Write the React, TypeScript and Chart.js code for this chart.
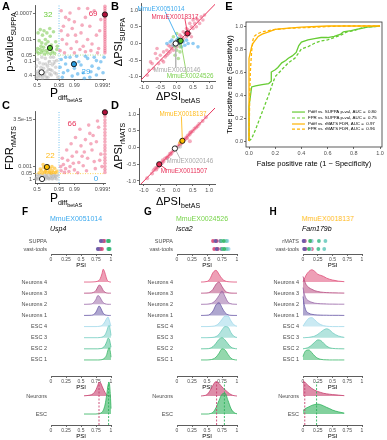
import React, { useEffect, useRef } from 'react';
import { Chart, registerables } from 'chart.js';

Chart.register(...registerables);

const FONT = '"Liberation Sans", Arial, Helvetica, sans-serif';
Chart.defaults.font.family = FONT;
Chart.defaults.font.size = 5.5;
Chart.defaults.color = '#4d4d4d';
Chart.defaults.plugins.legend.display = false;
Chart.defaults.plugins.tooltip.enabled = false;

type P = [number, number];

// ================= DATA =================
// Panels A & C: x = −log10(1 − Pdiff betAS); A: y = −log10(SUPPA p); C: y = −log10(rMATS FDR)
const pdiffTicks = [0.5, 0.95, 0.99, 0.9995];
const pdiffTickLabels = ['0.5', '0.95', '0.99', '0.9995'];
const suppaPTicks = [0.4, 0.1, 0.05, 0.01, 0.0007];
const suppaPTickLabels = ['0.4', '0.1', '0.05', '0.01', '0.0007'];
const rmatsFdrTicks = [1, 0.05, 0.001, 3.5e-15];
const rmatsFdrTickLabels = ['1', '0.05', '0.001', '3.5e-15'];
const pdiffCut = 0.95;
const pvalCut = 0.05;
const pdiffCapped = 0.99959;

const aSuppaOnly: P[] = [[0.35,2.3],[0.45,2.45],[0.55,2.2],[0.62,2.4],[0.75,2.3],[0.9,2.15],[1.05,2.35],[0.4,1.95],[0.52,1.85],[0.68,2.0],[0.8,1.9],[0.95,1.75],[1.15,1.9],[0.33,1.6],[0.45,1.55],[0.6,1.65],[0.72,1.5],[0.85,1.6],[1.0,1.45],[1.2,1.55],[0.38,1.38],[0.5,1.42],[0.65,1.35],[0.78,1.4],[0.92,1.36],[1.1,1.38],[0.58,1.5],[1.22,1.7],[0.3,1.45],[0.48,1.7],[0.88,2.5],[0.7,1.8]];
const aBoth: P[] = [[1.4,3.3],[1.6,3.0],[1.5,2.6],[1.8,3.2],[2.0,2.8],[2.2,3.4],[1.7,2.2],[1.9,2.5],[2.3,2.3],[2.5,3.0],[2.7,2.6],[2.9,3.3],[3.0,2.2],[1.45,2.0],[1.65,1.8],[1.85,1.6],[2.1,1.9],[2.4,1.7],[2.6,2.0],[2.8,1.8],[3.1,1.6],[1.35,1.5],[1.55,1.4],[2.0,1.4],[2.25,1.55],[2.5,1.45],[2.75,1.5],[3.05,1.4],[1.4,2.4],[2.05,2.2],[2.35,2.65],[3.2,2.9],[1.75,2.9],[2.6,3.4],[3.15,2.4]];
const aCappedSuppaY = [3.5,3.4,3.3,3.2,3.1,3.0,2.9,2.8,2.7,2.6,2.5,2.4,2.3,2.2,2.1,2.0,1.9,1.8,1.7,1.6,1.5,1.4];
const aBetasOnly: P[] = [[1.4,1.1],[1.6,0.9],[1.8,1.2],[2.0,0.7],[2.2,1.0],[2.4,0.5],[2.6,1.15],[2.8,0.8],[3.0,0.4],[3.2,1.0],[1.5,0.5],[1.9,0.35],[2.3,0.85],[2.7,0.3],[3.1,0.7],[1.35,0.75],[2.5,1.25],[2.9,1.2],[1.7,0.6],[3.3,0.5],[2.1,1.25],[2.75,0.55],[1.45,0.3],[3.35,1.2],[2.45,0.25],[1.95,0.95],[3.0,1.05],[2.15,0.45],[1.6,1.2]];
const aNeither: P[] = [[0.25,0.3],[0.3,0.45],[0.35,0.28],[0.4,0.6],[0.45,0.35],[0.5,0.5],[0.55,0.25],[0.6,0.7],[0.65,0.4],[0.7,0.9],[0.75,0.55],[0.8,0.3],[0.85,1.0],[0.9,0.65],[0.95,0.4],[1.0,0.85],[1.05,1.2],[1.1,0.5],[1.15,0.75],[1.2,1.05],[1.25,0.3],[0.28,0.8],[0.33,1.1],[0.42,0.95],[0.52,1.2],[0.58,0.9],[0.68,1.15],[0.78,0.8],[0.88,0.45],[0.98,0.6],[1.08,0.95],[0.38,0.4],[0.48,0.75],[0.62,0.5],[0.72,0.3],[0.82,0.65],[0.92,1.2],[1.18,0.45],[0.27,0.55],[0.56,0.38]];
const aHighlights: P[] = [[0.51,0.52],[0.89,1.62],[1.98,0.89],[3.387,3.13]];
const aCountLabels = ['32', '69', '67', '29'];

const cBoth: P[] = [[1.4,2.0],[1.5,3.5],[1.6,2.5],[1.7,4.5],[1.8,3.0],[1.9,5.5],[2.0,2.2],[2.1,6.5],[2.2,4.0],[2.3,8.0],[2.4,3.2],[2.5,9.5],[2.6,5.0],[2.7,11.0],[2.8,7.0],[2.9,4.2],[3.0,9.0],[3.1,12.5],[3.2,6.0],[1.45,5.0],[1.65,7.0],[1.85,8.5],[2.05,10.0],[2.25,12.0],[2.45,6.5],[2.65,13.0],[2.85,10.5],[3.05,14.0],[1.55,1.6],[1.75,1.8],[2.15,1.5],[2.55,2.0],[2.95,2.5],[3.25,3.0],[1.38,3.0],[2.35,5.5],[1.95,3.8],[2.75,8.5],[3.15,4.5]];
const cCappedFdrY = [16.1,15.5,15,14.2,13.5,12.8,12,11.2,10.5,9.7,9,8.2,7.5,6.8,6,5.2,4.5,3.8,3,2.3,1.6];
const cRmatsOnly: P[] = [[0.4,1.5],[0.5,2.0],[0.55,1.4],[0.6,2.8],[0.65,1.7],[0.7,2.3],[0.75,1.5],[0.8,3.2],[0.85,1.9],[0.9,2.5],[0.95,1.4],[1.0,2.0],[1.05,1.6],[1.1,2.6],[1.15,1.5],[0.45,2.4],[0.58,3.5],[0.68,1.9],[0.88,1.6],[1.2,1.9],[0.78,2.7],[0.98,3.0]];
const cNeither: P[] = [[0.25,0.1],[0.3,0.5],[0.35,0],[0.4,0.8],[0.45,0.2],[0.5,0],[0.55,0.6],[0.6,0],[0.65,1.0],[0.7,0],[0.75,0.4],[0.8,0.9],[0.85,0],[0.9,0.3],[0.95,0.7],[1.0,0],[1.05,1.1],[1.1,0.2],[1.15,0.6],[1.2,0],[1.25,0.9],[0.32,1.1],[0.48,0.95],[0.62,0.45],[0.72,0.75],[0.82,0.15],[0.92,1.2],[1.02,0.5],[1.12,0.85],[0.28,0]];
const cHighlights: P[] = [[0.53,0],[0.75,2.9],[3.387,16.1]];
const cCountLabels = ['22', '66', '67', '0'];

// Panel B: ΔPSI betAS vs ΔPSI SUPPA
const dpsiTicks = [-1, -0.5, 0, 0.5, 1];
const dpsiTickLabels = ['-1.0', '-0.5', '0.0', '0.5', '1.0'];
const bBoth: P[] = [[-0.85,-0.8],[-0.75,-0.6],[-0.7,-0.75],[-0.6,-0.45],[-0.55,-0.6],[-0.5,-0.35],[-0.45,-0.5],[-0.4,-0.25],[-0.35,-0.4],[-0.3,-0.2],[-0.3,-0.35],[-0.25,-0.3],[-0.2,-0.1],[-0.2,-0.25],[-0.15,-0.15],[-0.1,-0.05],[-0.1,-0.2],[-0.05,0.0],[0.0,0.05],[0.05,0.1],[0.1,0.05],[0.15,0.2],[0.2,0.15],[0.25,0.3],[0.3,0.2],[0.35,0.4],[0.4,0.3],[0.45,0.5],[0.5,0.45],[0.55,0.6],[0.6,0.5],[0.65,0.7],[0.7,0.6],[0.75,0.8],[0.8,0.7],[0.5,0.7],[0.4,0.6],[0.6,0.75],[-0.65,-0.3],[-0.8,-0.55],[-0.9,-0.95],[0.2,0.35],[0.3,0.45],[-0.4,-0.55],[0.1,0.25],[-0.6,-0.15],[0.45,0.2],[0.85,0.85],[-0.25,-0.05],[0.0,-0.1]];
const bBetasOnly: P[] = [[-0.3,0.0],[-0.2,0.05],[-0.1,-0.05],[0.0,0.1],[0.1,0.0],[0.2,0.05],[0.25,-0.05],[0.3,0.1],[0.15,-0.1],[0.65,-0.1],[0.5,0.0],[-0.15,0.1],[0.05,0.15],[0.35,0.0]];
const bSuppaOnly: P[] = [[0.0,-0.2],[-0.05,-0.35],[0.05,-0.45],[0.1,-0.25],[-0.1,0.2],[0.0,0.3],[0.05,0.15],[0.1,-0.1],[-0.05,-0.1],[0.15,0.1]];
const bNeither: P[] = [[-0.1,0.0],[0.0,-0.05],[0.05,0.02],[-0.05,0.05],[0.1,-0.02],[-0.15,-0.05],[0.0,0.08],[0.08,0.1]];
const bHighlights: P[] = [[-0.03,0.0],[0.08,0.06],[0.12,0.08],[0.33,0.3]];
const bEventIds = ['MmuEX0051014', 'MmuEX0018317', 'MmuEX0020146', 'MmuEX0024526'];

// Panel D: ΔPSI betAS vs ΔPSI rMATS
const dBoth: P[] = [[-0.75,-0.78],[-0.7,-0.68],[-0.65,-0.62],[-0.6,-0.6],[-0.55,-0.57],[-0.5,-0.48],[-0.45,-0.46],[-0.4,-0.42],[-0.35,-0.33],[-0.3,-0.31],[-0.25,-0.26],[-0.2,-0.19],[-0.15,-0.16],[-0.1,-0.1],[-0.05,-0.06],[0.05,0.04],[0.1,0.11],[0.15,0.14],[0.2,0.21],[0.25,0.24],[0.3,0.3],[0.35,0.36],[0.4,0.39],[0.45,0.46],[0.5,0.49],[0.55,0.56],[0.6,0.6],[0.65,0.64],[0.7,0.71],[0.8,0.79],[-0.42,-0.38],[-0.28,-0.3],[0.12,0.1],[0.22,0.24],[0.32,0.28],[0.42,0.44],[-0.62,-0.66],[-0.18,-0.2],[0.41,0.19],[-0.9,-0.92],[0.9,0.9]];
const dRmatsOnly: P[] = [[0.15,0.18],[0.1,0.14]];
const dNeither: P[] = [[0.05,0.0],[-0.02,0.02],[0.12,0.02]];
const dHighlights: P[] = [[-0.05,-0.03],[0.18,0.2],[-0.53,-0.5]];
const dEventIds = ['MmuEX0018137', 'MmuEX0020146', 'MmuEX0011507'];

// Panel E: ROC curves
const rocTicks = [0, 0.2, 0.4, 0.6, 0.8, 1];
const rocTickLabels = ['0.0', '0.2', '0.4', '0.6', '0.8', '1.0'];
const rocGreenSolidFpr = [0,0,0.02,0.05,0.1,0.15,0.17,0.17,0.2,0.22,0.25,0.28,0.3,0.33,0.36,0.38,0.4,0.45,0.5,0.55,0.6,0.65,0.7,0.72,0.78,0.82,0.86,0.9,1];
const rocGreenSolidTpr = [0,0.3,0.47,0.48,0.49,0.5,0.52,0.6,0.62,0.64,0.68,0.7,0.72,0.74,0.77,0.83,0.86,0.88,0.89,0.9,0.9,0.91,0.93,0.95,0.96,0.97,0.98,0.99,1];
const rocGreenDashFpr = [0,0.02,0.05,0.1,0.15,0.18,0.2,0.25,0.3,0.35,0.4,0.45,0.5,0.55,0.6,0.65,0.7,0.75,0.8,0.85,0.9,1];
const rocGreenDashTpr = [0,0.02,0.1,0.25,0.4,0.5,0.56,0.62,0.68,0.72,0.8,0.82,0.85,0.87,0.88,0.9,0.92,0.95,0.96,0.98,0.99,1];
const rocOrangeSolidFpr = [0,0,0.01,0.02,0.03,0.05,0.07,0.1,0.15,0.2,0.28,0.4,0.6,1];
const rocOrangeSolidTpr = [0,0.72,0.77,0.82,0.85,0.88,0.91,0.93,0.95,0.97,0.98,0.99,1,1];
const rocOrangeDashFpr = [0,0.005,0.01,0.02,0.03,0.04,0.06,0.1,0.15,0.2,0.3,0.5,0.7,1];
const rocOrangeDashTpr = [0,0.35,0.6,0.78,0.88,0.91,0.93,0.95,0.96,0.97,0.98,0.99,1,1];
const rocLegendLabels = ['Pdiff vs. SUPPA p-val, AUC =  0.80', 'FPR vs. SUPPA p-val, AUC =  0.75', 'Pdiff vs. rMATS FDR, AUC =  0.97', 'FPR vs. rMATS FDR, AUC =  0.96'];

// Panels F–H: ridgelines
const psiTicks = [0, 0.25, 0.5, 0.75, 1];
const psiTickLabels = ['0', '0.25', '0.5', '0.75', '1'];
const ridgeSamples = ['ESC 1', 'ESC 2', 'ESC 3', 'ESC 4', 'Neurons 1', 'Neurons 2', 'Neurons 3', 'Neurons 4'];
const ridgeColors = ['#3cb86a', '#50c195', '#74cdc2', '#9fd8ea', '#6c5ca8', '#9c6ba9', '#b84b80', '#e0507a'];
const pooledGroups = ['ESC', 'Neurons'];
const pooledColors = ['#2fb35c', '#c8406e'];

const usp4Grid = [0.55,0.65,0.7,0.75,0.78,0.8,0.82,0.85,0.87,0.9,0.93,0.95,0.97,0.99,1.0];
const usp4Ridges = [
  [0,0,0,0,0,0,0.01,0.03,0.08,0.2,0.5,0.9,1.1,0.7,0.25],
  [0,0,0,0,0,0.01,0.02,0.05,0.12,0.3,0.65,0.95,0.9,0.45,0.15],
  [0,0,0,0,0,0.01,0.02,0.05,0.1,0.25,0.6,0.95,1.1,0.6,0.2],
  [0,0,0,0,0.01,0.02,0.04,0.1,0.2,0.45,0.75,0.85,0.6,0.2,0.05],
  [0,0.01,0.05,0.3,0.65,0.85,0.75,0.4,0.2,0.06,0.02,0,0,0,0],
  [0,0.02,0.1,0.45,0.78,0.75,0.6,0.3,0.15,0.05,0.01,0,0,0,0],
  [0,0.01,0.05,0.25,0.55,0.72,0.7,0.45,0.25,0.08,0.02,0,0,0,0],
  [0,0,0.01,0.03,0.08,0.15,0.3,0.75,1.15,0.8,0.25,0.08,0.02,0,0],
];
const usp4PooledESC = [0,0,0,0,0.01,0.02,0.04,0.1,0.2,0.5,1.1,1.6,1.75,1.0,0.3];
const usp4PooledNeurons = [0.01,0.05,0.12,0.35,0.6,0.75,0.75,0.55,0.4,0.2,0.06,0.02,0.01,0,0];
const usp4Suppa = [0.96,0.95,0.97,0.94,0.83,0.85,0.87,0.89];
const usp4Vast = [0.97,0.96,0.98,0.95,0.78,0.8,0.82,0.85];
const usp4Medians = [0.96, 0.8];

const isca2Grid = [0.4,0.5,0.55,0.6,0.65,0.7,0.75,0.8,0.85,0.9,0.95,1.0];
const isca2Ridges = [
  [0,0,0.02,0.08,0.25,0.6,1.0,0.9,0.5,0.15,0.03,0],
  [0,0.01,0.05,0.2,0.5,0.85,1.0,0.8,0.45,0.15,0.04,0],
  [0,0,0.01,0.03,0.1,0.3,0.7,1.0,0.95,0.45,0.12,0.02],
  [0,0,0.01,0.03,0.1,0.3,0.65,0.95,0.95,0.5,0.15,0.03],
  [0,0.02,0.1,0.4,0.95,1.15,0.7,0.25,0.06,0.01,0,0],
  [0,0.01,0.05,0.15,0.4,0.8,1.2,0.7,0.2,0.05,0.01,0],
  [0,0.02,0.1,0.35,0.8,1.0,0.6,0.2,0.05,0.01,0,0],
  [0,0.05,0.3,0.85,1.05,0.7,0.3,0.1,0.03,0.01,0,0],
];
const isca2PooledESC = [0,0,0.02,0.1,0.35,0.75,1.1,1.15,0.75,0.3,0.08,0.01];
const isca2PooledNeurons = [0,0.08,0.3,0.6,0.8,0.7,0.5,0.35,0.2,0.08,0.02,0];
const isca2Suppa = [0.78,0.74,0.82,0.84,0.64,0.72,0.66,0.6];
const isca2Vast = [0.79,0.76,0.83,0.86,0.66,0.74,0.68,0.62];
const isca2Medians = [0.79, 0.66];

const fam179bGrid = [0,0.02,0.05,0.1,0.15,0.2,0.25,0.3,0.35,0.4,0.45,0.5,0.6,0.7];
const fam179bRidges = [
  [0.3,0.6,0.85,0.9,0.65,0.35,0.15,0.06,0.02,0.01,0,0,0,0],
  [0,0.02,0.05,0.15,0.35,0.6,0.8,0.75,0.5,0.25,0.1,0.04,0.01,0],
  [0,0,0.01,0.03,0.08,0.15,0.3,0.5,0.7,0.8,0.7,0.45,0.15,0.03],
  [0.05,0.2,0.45,0.75,0.8,0.6,0.35,0.18,0.08,0.03,0.01,0,0,0],
  [1.7,1.0,0.45,0.2,0.1,0.06,0.04,0.03,0.02,0.02,0.01,0.01,0.01,0],
  [1.5,1.0,0.55,0.3,0.18,0.1,0.07,0.05,0.04,0.03,0.02,0.02,0.01,0.01],
  [1.5,1.2,0.8,0.5,0.35,0.22,0.15,0.1,0.07,0.05,0.04,0.03,0.02,0.01],
  [0.05,0.25,0.6,0.95,1.1,0.95,0.7,0.6,0.5,0.35,0.25,0.18,0.08,0.03],
];
const fam179bPooledESC = [0.2,0.25,0.32,0.4,0.48,0.53,0.55,0.52,0.45,0.37,0.3,0.22,0.12,0.05];
const fam179bPooledNeurons = [0.85,0.8,0.7,0.55,0.42,0.32,0.25,0.2,0.15,0.12,0.1,0.08,0.05,0.02];
const fam179bRmats = [0.12,0.27,0.38,0.15,0.01,0.02,0.03,0.14];
const fam179bVast = [0.1,0.26,0.36,0.13,0.02,0.03,0.04,0.15];
const fam179bMedians = [0.23, 0.03];

// ================= STYLE / HELPERS =================
const RED_PT = 'rgba(236,90,125,0.5)';
const GREEN_PT = 'rgba(130,205,90,0.6)';
const BLUE_PT = 'rgba(70,170,235,0.6)';
const GREY_PT = 'rgba(170,170,170,0.45)';
const ORANGE_PT = 'rgba(255,190,40,0.65)';
const C_RED = '#e8335a', C_GREEN = '#6ccc3c', C_BLUE = '#3daaee', C_GREY = '#aaaaaa', C_ORANGE = '#ffbb1c';
const ROC_GREEN = '#66cc33', ROC_ORANGE = '#ffb300';

const nlog = (p: number) => -Math.log10(p);
const nlog1m = (p: number) => -Math.log10(1 - p);
const alpha = (hex: string, a: number) => {
  const n = parseInt(hex.slice(1), 16);
  return `rgba(${(n >> 16) & 255},${(n >> 8) & 255},${n & 255},${a})`;
};
const pts = (arr: P[]) => arr.map(([x, y]) => ({ x, y }));

const base = (padding: any) => ({
  responsive: false, animation: false, events: [] as any[],
  layout: { autoPadding: false, padding },
});

function ax(o: any) {
  const tickLen = o.tick ?? 2;
  return {
    type: 'linear',
    position: o.pos,
    min: o.min, max: o.max,
    afterBuildTicks: (s: any) => { s.ticks = o.ticks.map((v: number) => ({ value: v })); },
    afterFit: (s: any) => {
      if (o.pos === 'bottom') s.height = o.fit; else s.width = o.fit;
      s.paddingLeft = 0; s.paddingRight = 0; s.paddingTop = 0; s.paddingBottom = 0;
    },
    ticks: {
      autoSkip: false, maxRotation: 0, minRotation: 0, padding: o.pad ?? 1,
      font: { size: o.fs ?? 5.5 }, color: '#4d4d4d',
      callback: (_v: any, i: number) => o.labels[i],
    },
    grid: { display: tickLen > 0, drawOnChartArea: false, drawTicks: tickLen > 0, tickLength: tickLen, tickColor: '#333', tickWidth: 0.7, color: '#333' },
    border: { display: o.border ?? true, color: '#333', width: 0.8 },
    title: o.title ? { display: true, text: o.title, color: '#000', font: { size: o.tfs ?? 6 }, padding: 0 } : { display: false },
  };
}

const scat = (arr: P[], color: string, r = 1.8) => ({
  type: 'scatter', data: pts(arr), pointRadius: r, pointBackgroundColor: color,
  pointBorderColor: 'rgba(0,0,0,0)', pointBorderWidth: 0, clip: false,
});
const hl = (arr: P[], colors: string[]) => ({
  type: 'scatter', data: pts(arr), pointRadius: 2.6, pointBackgroundColor: colors,
  pointBorderColor: '#111', pointBorderWidth: 0.9, clip: false,
});
const seg = (a: P, b: P, color: string, dash: number[] = [], w = 0.8, clip: any = false) => ({
  type: 'line', data: pts([a, b]), borderColor: color, borderWidth: w, borderDash: dash,
  pointRadius: 0, fill: false, clip, tension: 0,
});

function annot(spec: any) {
  return {
    id: 'annot',
    afterDatasetsDraw(chart: any) {
      const { ctx, chartArea: ca, scales } = chart;
      const sx = scales.x, sy = scales.y;
      ctx.save();
      if (spec.box) {
        ctx.strokeStyle = '#333'; ctx.lineWidth = 0.8;
        ctx.strokeRect(ca.left, ca.top, ca.width, ca.height);
      }
      for (const t of spec.texts || []) {
        ctx.font = `${t.size || 6}px ${FONT}`;
        ctx.fillStyle = t.color; ctx.textAlign = t.align || 'center'; ctx.textBaseline = 'middle';
        ctx.fillText(t.text, sx.getPixelForValue(t.x), sy.getPixelForValue(t.y));
      }
      if (spec.legend) {
        const L = spec.legend;
        L.items.forEach((it: any, i: number) => {
          const py = sy.getPixelForValue(L.rows[i]);
          ctx.beginPath(); ctx.setLineDash(it.dash); ctx.strokeStyle = it.color; ctx.lineWidth = 1.2;
          ctx.moveTo(sx.getPixelForValue(L.x0), py); ctx.lineTo(sx.getPixelForValue(L.x1), py); ctx.stroke();
          ctx.setLineDash([]);
          ctx.font = `${L.size}px ${FONT}`; ctx.fillStyle = '#000'; ctx.textAlign = 'left'; ctx.textBaseline = 'middle';
          ctx.fillText(it.text, sx.getPixelForValue(L.tx), py);
        });
      }
      ctx.restore();
    },
  };
}

// ================= CHART CONFIGS =================
const cfgA = () => ({
  type: 'scatter',
  data: { datasets: [
    hl(aHighlights, ['#ffffff', '#55c52a', '#2a9de0', '#b0103a']),
    scat(aBoth, RED_PT),
    scat(aCappedSuppaY.map((y) => [nlog1m(pdiffCapped), y] as P), RED_PT),
    scat(aBetasOnly, BLUE_PT),
    scat(aSuppaOnly, GREEN_PT),
    scat(aNeither, GREY_PT),
    seg([nlog1m(pdiffCut), 0.22], [nlog1m(pdiffCut), 3.56], '#4fb3ea', [1, 1.5]),
    seg([0.21, nlog(pvalCut)], [3.39, nlog(pvalCut)], '#99d86a', [1, 1.5]),
  ] },
  options: {
    ...base({ top: 5, right: 5, left: 0, bottom: 0 }),
    scales: {
      x: ax({ pos: 'bottom', min: 0.21, max: 3.39, ticks: pdiffTicks.map(nlog1m), labels: pdiffTickLabels, fit: 21 }),
      y: ax({ pos: 'left', min: 0.22, max: 3.56, ticks: suppaPTicks.map(nlog), labels: suppaPTickLabels, fit: 35 }),
    },
  },
  plugins: [annot({ texts: [
    { text: aCountLabels[0], x: 0.8, y: 3.11, color: C_GREEN, size: 8 },
    { text: aCountLabels[1], x: 2.85, y: 3.15, color: C_RED, size: 8 },
    { text: aCountLabels[2], x: 0.98, y: 0.94, color: '#c4c4c4', size: 8 },
    { text: aCountLabels[3], x: 2.53, y: 0.54, color: C_BLUE, size: 8 },
  ] })],
});

const cfgC = () => ({
  type: 'scatter',
  data: { datasets: [
    hl(cHighlights, ['#ffffff', '#ffbf00', '#b0103a']),
    scat(cBoth, RED_PT),
    scat(cCappedFdrY.map((y) => [nlog1m(pdiffCapped), y] as P), RED_PT),
    scat(cRmatsOnly, ORANGE_PT),
    scat(cNeither, GREY_PT),
    seg([nlog1m(pdiffCut), -0.96], [nlog1m(pdiffCut), 16.4], '#4fb3ea', [1, 1.5]),
    seg([0.21, nlog(pvalCut)], [3.39, nlog(pvalCut)], '#ffc933', [1, 1.5]),
  ] },
  options: {
    ...base({ top: 11, right: 5, left: 0, bottom: 0 }),
    scales: {
      x: ax({ pos: 'bottom', min: 0.21, max: 3.39, ticks: pdiffTicks.map(nlog1m), labels: pdiffTickLabels, fit: 22 }),
      y: ax({ pos: 'left', min: -0.96, max: 16.4, ticks: rmatsFdrTicks.map(nlog), labels: rmatsFdrTickLabels, fit: 35 }),
    },
  },
  plugins: [annot({ texts: [
    { text: cCountLabels[0], x: 0.9, y: 5.55, color: C_ORANGE, size: 8 },
    { text: cCountLabels[1], x: 1.89, y: 13.27, color: C_RED, size: 8 },
    { text: cCountLabels[2], x: 1.07, y: 0.25, color: '#c4c4c4', size: 8 },
    { text: cCountLabels[3], x: 2.98, y: 0.0, color: C_BLUE, size: 8 },
  ] })],
});

const cfgB = () => ({
  type: 'scatter',
  data: { datasets: [
    hl([bHighlights[0]], ['#ffffff']),
    hl([bHighlights[2]], ['#55c52a']),
    hl([bHighlights[1]], ['#2a9de0']),
    hl([bHighlights[3]], ['#e8254f']),
    seg([-0.35, 0.95], bHighlights[1], C_BLUE, [], 0.9),
    seg([0.25, 0.74], bHighlights[3], C_RED, [], 0.9),
    seg(bHighlights[0], [-0.03, -0.72], '#b5b5b5', [], 0.9),
    seg(bHighlights[2], [0.3, -0.9], '#8fd35f', [], 0.9),
    scat(bNeither, GREY_PT),
    scat(bSuppaOnly, GREEN_PT),
    scat(bBetasOnly, BLUE_PT),
    scat(bBoth, RED_PT),
    seg([-1.3, -1.3], [1.3, 1.3], C_RED, [], 1, 0),
  ] },
  options: {
    ...base({ top: 3, right: 5, left: 0, bottom: 0 }),
    scales: {
      x: ax({ pos: 'bottom', min: -1.09, max: 1.17, ticks: dpsiTicks, labels: dpsiTickLabels, fit: 19 }),
      y: ax({ pos: 'left', min: -1.12, max: 1.21, ticks: dpsiTicks, labels: dpsiTickLabels, fit: 31 }),
    },
  },
  plugins: [annot({ texts: [
    { text: bEventIds[0], x: -0.48, y: 1.03, color: C_BLUE, size: 6.3 },
    { text: bEventIds[1], x: -0.05, y: 0.79, color: C_RED, size: 6.3 },
    { text: bEventIds[2], x: 0.01, y: -0.79, color: C_GREY, size: 6.3 },
    { text: bEventIds[3], x: 0.41, y: -0.97, color: '#7bd14e', size: 6.3 },
  ] })],
});

const cfgD = () => ({
  type: 'scatter',
  data: { datasets: [
    hl([dHighlights[0]], ['#ffffff']),
    hl([dHighlights[1]], ['#ffbf00']),
    hl([dHighlights[2]], ['#e8254f']),
    seg([0.15, 0.93], dHighlights[1], C_ORANGE, [], 0.9),
    seg(dHighlights[0], [0.12, -0.35], '#b5b5b5', [], 0.9),
    seg(dHighlights[2], [-0.3, -0.66], C_RED, [], 0.9),
    scat(dNeither, GREY_PT),
    scat(dRmatsOnly, ORANGE_PT),
    scat(dBoth, RED_PT, 2),
    seg([-1.3, -1.3], [1.3, 1.3], C_RED, [], 1, 0),
  ] },
  options: {
    ...base({ top: 8, right: 5, left: 0, bottom: 0 }),
    scales: {
      x: ax({ pos: 'bottom', min: -1.15, max: 1.18, ticks: dpsiTicks, labels: dpsiTickLabels, fit: 21 }),
      y: ax({ pos: 'left', min: -1.09, max: 1.18, ticks: dpsiTicks, labels: dpsiTickLabels, fit: 29 }),
    },
  },
  plugins: [annot({ texts: [
    { text: dEventIds[0], x: 0.2, y: 1.0, color: C_ORANGE, size: 6.3 },
    { text: dEventIds[1], x: 0.41, y: -0.4, color: C_GREY, size: 6.3 },
    { text: dEventIds[2], x: 0.23, y: -0.7, color: C_RED, size: 6.3 },
  ] })],
});

const roc = (fpr: number[], tpr: number[], color: string, dash: number[]) => ({
  data: fpr.map((x, i) => ({ x, y: tpr[i] })), borderColor: color, borderWidth: 1.3,
  borderDash: dash, pointRadius: 0, fill: false, tension: 0, clip: false,
});

const cfgE = () => ({
  type: 'line',
  data: { datasets: [
    roc(rocOrangeDashFpr, rocOrangeDashTpr, ROC_ORANGE, [3, 2]),
    roc(rocOrangeSolidFpr, rocOrangeSolidTpr, ROC_ORANGE, []),
    roc(rocGreenDashFpr, rocGreenDashTpr, ROC_GREEN, [3, 2]),
    roc(rocGreenSolidFpr, rocGreenSolidTpr, ROC_GREEN, []),
  ] },
  options: {
    ...base({ top: 22, right: 5, left: 0, bottom: 0 }),
    scales: {
      x: ax({ pos: 'bottom', min: -0.023, max: 1.015, ticks: rocTicks, labels: rocTickLabels, fit: 21, border: false, title: 'False positive rate (1 − Specificity)', tfs: 7.5 }),
      y: ax({ pos: 'left', min: -0.052, max: 1.035, ticks: rocTicks, labels: rocTickLabels, fit: 21, border: false, title: 'True positive rate (Sensitivity)', tfs: 7.5 }),
    },
  },
  plugins: [annot({ box: true, legend: {
    x0: 0.328, x1: 0.427, tx: 0.45, rows: [0.252, 0.2, 0.148, 0.104], size: 4.4,
    items: [
      { text: rocLegendLabels[0], color: ROC_GREEN, dash: [] },
      { text: rocLegendLabels[1], color: ROC_GREEN, dash: [3, 2] },
      { text: rocLegendLabels[2], color: ROC_ORANGE, dash: [] },
      { text: rocLegendLabels[3], color: ROC_ORANGE, dash: [3, 2] },
    ],
  } })],
});

function stripCfg(g: any) {
  return () => ({
    type: 'scatter',
    data: { datasets: ridgeSamples.map((_s, i) => ({
      data: [{ x: g.tool[i], y: 2 }, { x: g.vast[i], y: 1 }],
      pointRadius: 1.9, pointBackgroundColor: alpha(ridgeColors[i], 0.95), pointBorderWidth: 0,
      pointBorderColor: 'rgba(0,0,0,0)', clip: false,
    })) },
    options: {
      ...base({ top: 3, right: g.padR, left: 0, bottom: 0 }),
      scales: {
        x: ax({ pos: 'bottom', min: 0, max: 1, ticks: psiTicks, labels: psiTickLabels, fit: 15, fs: 5, title: 'PSI', tfs: 6 }),
        y: ax({ pos: 'left', min: 0.375, max: 2.5, ticks: [1, 2], labels: ['vast-tools', g.toolName], fit: g.yFit, tick: 0, border: false, pad: 4 }),
      },
    },
  });
}

function ridgeCfg(g: any) {
  return () => ({
    type: 'line',
    data: { datasets: ridgeSamples.map((_s, i) => ({
      data: g.grid.map((x: number, j: number) => ({ x, y: i + 1 + g.ridges[i][j] })),
      borderColor: ridgeColors[i], borderWidth: 0.8, backgroundColor: alpha(ridgeColors[i], 0.55),
      fill: { value: i + 1 }, pointRadius: 0, cubicInterpolationMode: 'monotone', clip: false,
    })) },
    options: {
      ...base({ top: 4, right: g.padR, left: 0, bottom: 0 }),
      scales: {
        x: ax({ pos: 'bottom', min: 0, max: 1, ticks: psiTicks, labels: psiTickLabels, fit: 15, fs: 5, title: 'PSI', tfs: 6 }),
        y: ax({ pos: 'left', min: -0.44, max: 9.44, ticks: [1, 2, 3, 4, 5, 6, 7, 8], labels: ridgeSamples, fit: g.yFit, tick: 0, border: false, pad: 4 }),
      },
    },
  });
}

function pooledCfg(g: any) {
  const pooled = [g.pooledESC, g.pooledNeurons];
  return () => ({
    type: 'line',
    data: { datasets: [
      seg([g.medians[1], 0.39], [g.medians[1], 2.78], pooledColors[1], [2, 1.5], 0.9),
      seg([g.medians[0], 0.39], [g.medians[0], 2.78], pooledColors[0], [2, 1.5], 0.9),
      ...pooledGroups.map((_s, i) => ({
        data: g.grid.map((x: number, j: number) => ({ x, y: i + 1 + pooled[i][j] })),
        borderColor: pooledColors[i], borderWidth: 0.8, backgroundColor: alpha(pooledColors[i], 0.6),
        fill: { value: i + 1 }, pointRadius: 0, cubicInterpolationMode: 'monotone', clip: false,
      })),
    ] },
    options: {
      ...base({ top: 4, right: g.padR, left: 0, bottom: 0 }),
      scales: {
        x: ax({ pos: 'bottom', min: 0, max: 1, ticks: psiTicks, labels: psiTickLabels, fit: 15, fs: 5, title: 'PSI', tfs: 6 }),
        y: ax({ pos: 'left', min: 0.39, max: 2.89, ticks: [1, 2], labels: pooledGroups, fit: g.yFit, tick: 0, border: false, pad: 4 }),
      },
    },
  });
}

// ================= COMPONENTS =================
function ChartBox({ box, make }: any) {
  const ref = useRef<HTMLCanvasElement>(null);
  useEffect(() => {
    const c = new Chart(ref.current as any, make() as any);
    return () => c.destroy();
  }, []);
  return (
    <canvas ref={ref} width={box[2]} height={box[3]}
      style={{ position: 'absolute', left: box[0], top: box[1], width: box[2], height: box[3] }} />
  );
}

function Txt({ x, y, size = 10, color = '#000', rot = false, bold = false, italic = false, align = 'center', children }: any) {
  const tx = align === 'left' ? '0' : '-50%';
  return (
    <div style={{
      position: 'absolute', left: x, top: y, transform: `translate(${tx},-50%)${rot ? ' rotate(-90deg)' : ''}`,
      fontSize: size, color, fontWeight: bold ? 700 : 400, fontStyle: italic ? 'italic' : 'normal',
      whiteSpace: 'nowrap', lineHeight: 1, fontFamily: FONT,
    }}>{children}</div>
  );
}
const Sub = ({ size = 7, drop = 3, children }: any) => (
  <span style={{ fontSize: size, position: 'relative', top: drop }}>{children}</span>
);

const genes = [
  { left: 0, yFit: 51, padR: 5, letter: 'F', letterX: 25, id: 'MmuEX0051014', idColor: C_BLUE, symbol: 'Usp4', toolName: 'SUPPA',
    grid: usp4Grid, ridges: usp4Ridges, pooledESC: usp4PooledESC, pooledNeurons: usp4PooledNeurons, tool: usp4Suppa, vast: usp4Vast, medians: usp4Medians },
  { left: 125, yFit: 52, padR: 4, letter: 'G', letterX: 148, id: 'MmuEX0024526', idColor: '#77d44a', symbol: 'Isca2', toolName: 'SUPPA',
    grid: isca2Grid, ridges: isca2Ridges, pooledESC: isca2PooledESC, pooledNeurons: isca2PooledNeurons, tool: isca2Suppa, vast: isca2Vast, medians: isca2Medians },
  { left: 250, yFit: 53, padR: 4, letter: 'H', letterX: 273, id: 'MmuEX0018137', idColor: '#ffbe1a', symbol: 'Fam179b', toolName: 'rMATS',
    grid: fam179bGrid, ridges: fam179bRidges, pooledESC: fam179bPooledESC, pooledNeurons: fam179bPooledNeurons, tool: fam179bRmats, vast: fam179bVast, medians: fam179bMedians },
];

function GeneColumn({ g }: any) {
  const ax0 = g.left + g.yFit;
  return (
    <>
      <Txt x={g.letterX} y={212} size={10} bold>{g.letter}</Txt>
      <Txt x={ax0 - 1} y={218} size={7} color={g.idColor} align="left">{g.id}</Txt>
      <Txt x={ax0 - 1} y={228} size={7} italic align="left">{g.symbol}</Txt>
      <ChartBox box={[g.left, 234, 116, 35]} make={stripCfg(g)} />
      <ChartBox box={[g.left, 262, 116, 129]} make={ridgeCfg(g)} />
      <ChartBox box={[g.left, 376, 116, 64]} make={pooledCfg(g)} />
    </>
  );
}

export default function App() {
  return (
    <div style={{ position: 'absolute', left: 0, top: 0, width: 387, height: 440, background: '#fff', overflow: 'hidden', fontFamily: FONT }}>
      <ChartBox box={[0, 0, 110, 100]} make={cfgA} />
      <ChartBox box={[0, 100, 110, 105]} make={cfgC} />
      <ChartBox box={[110, 0, 110, 100]} make={cfgB} />
      <ChartBox box={[110, 100, 110, 105]} make={cfgD} />
      <ChartBox box={[225, 0, 162, 168]} make={cfgE} />

      <Txt x={6} y={6} size={11} bold>A</Txt>
      <Txt x={115} y={6} size={11} bold>B</Txt>
      <Txt x={6} y={105} size={11} bold>C</Txt>
      <Txt x={115} y={105} size={11} bold>D</Txt>
      <Txt x={229} y={6} size={11} bold>E</Txt>

      <Txt x={9} y={42} size={11} rot>p-value<Sub>SUPPA</Sub></Txt>
      <Txt x={66} y={93} size={12}>P<Sub size={7} drop={3}>diff<Sub size={5.5} drop={2}>betAS</Sub></Sub></Txt>
      <Txt x={9} y={148} size={11} rot>FDR<Sub>rMATS</Sub></Txt>
      <Txt x={66} y={198} size={12}>P<Sub size={7} drop={3}>diff<Sub size={5.5} drop={2}>betAS</Sub></Sub></Txt>
      <Txt x={118} y={42} size={11} rot>ΔPSI<Sub>SUPPA</Sub></Txt>
      <Txt x={178} y={96} size={11}>ΔPSI<Sub>betAS</Sub></Txt>
      <Txt x={118} y={146} size={11} rot>ΔPSI<Sub>rMATS</Sub></Txt>
      <Txt x={178} y={201} size={11}>ΔPSI<Sub>betAS</Sub></Txt>

      {genes.map((g) => <GeneColumn key={g.letter} g={g} />)}
    </div>
  );
}
